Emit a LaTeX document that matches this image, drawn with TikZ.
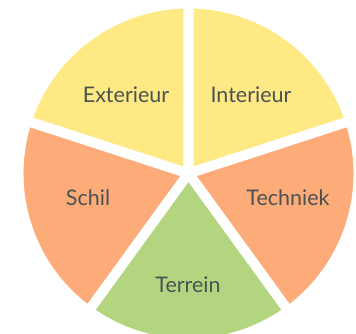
\documentclass[tikz,border=0pt]{standalone}
\usepackage{fontspec}
\setmainfont{Lato}
\usetikzlibrary{calc}
\definecolor{pieyellow}{HTML}{FFE984}
\definecolor{pieorange}{HTML}{FDAB78}
\definecolor{piegreen}{HTML}{B3D57F}
\definecolor{labelgray}{HTML}{4A5352}
\tikzstyle{slice} = [draw=white, line width=10pt, line join=round]
\tikzstyle{label} = [text=labelgray, font=\fontsize{21.5}{24}\selectfont, inner sep=0pt]

\begin{document}
\begin{tikzpicture}[x=1pt, y=1pt]
    \useasboundingbox (0,0) rectangle (356,334);
    \coordinate (ctr) at (188.5,160.5);

    \filldraw [slice, fill=pieyellow] (ctr) -- ++(90:170) arc (90:162:170) -- cycle;
    \filldraw [slice, fill=pieyellow] (ctr) -- ++(18:170) arc (18:90:170) -- cycle;
    \filldraw [slice, fill=pieorange] (ctr) -- ++(162:170) arc (162:234:170) -- cycle;
    \filldraw [slice, fill=pieorange] (ctr) -- ++(-54:170) arc (-54:18:170) -- cycle;
    \filldraw [slice, fill=piegreen] (ctr) -- ++(234:170) arc (234:306:170) -- cycle;

    \node [label] at ($(ctr)+(-62.5,79)$) (exterieur) {Exterieur};
    \node [label] at ($(ctr)+(62.5,79)$) (interieur) {Interieur};
    \node [label] at ($(ctr)+(-100.5,-24)$) (schil) {Schil};
    \node [label] at ($(ctr)+(99.5,-24)$) (techniek) {Techniek};
    \node [label] at ($(ctr)+(-0.5,-111.5)$) (terrein) {Terrein};
\end{tikzpicture}
\end{document}
